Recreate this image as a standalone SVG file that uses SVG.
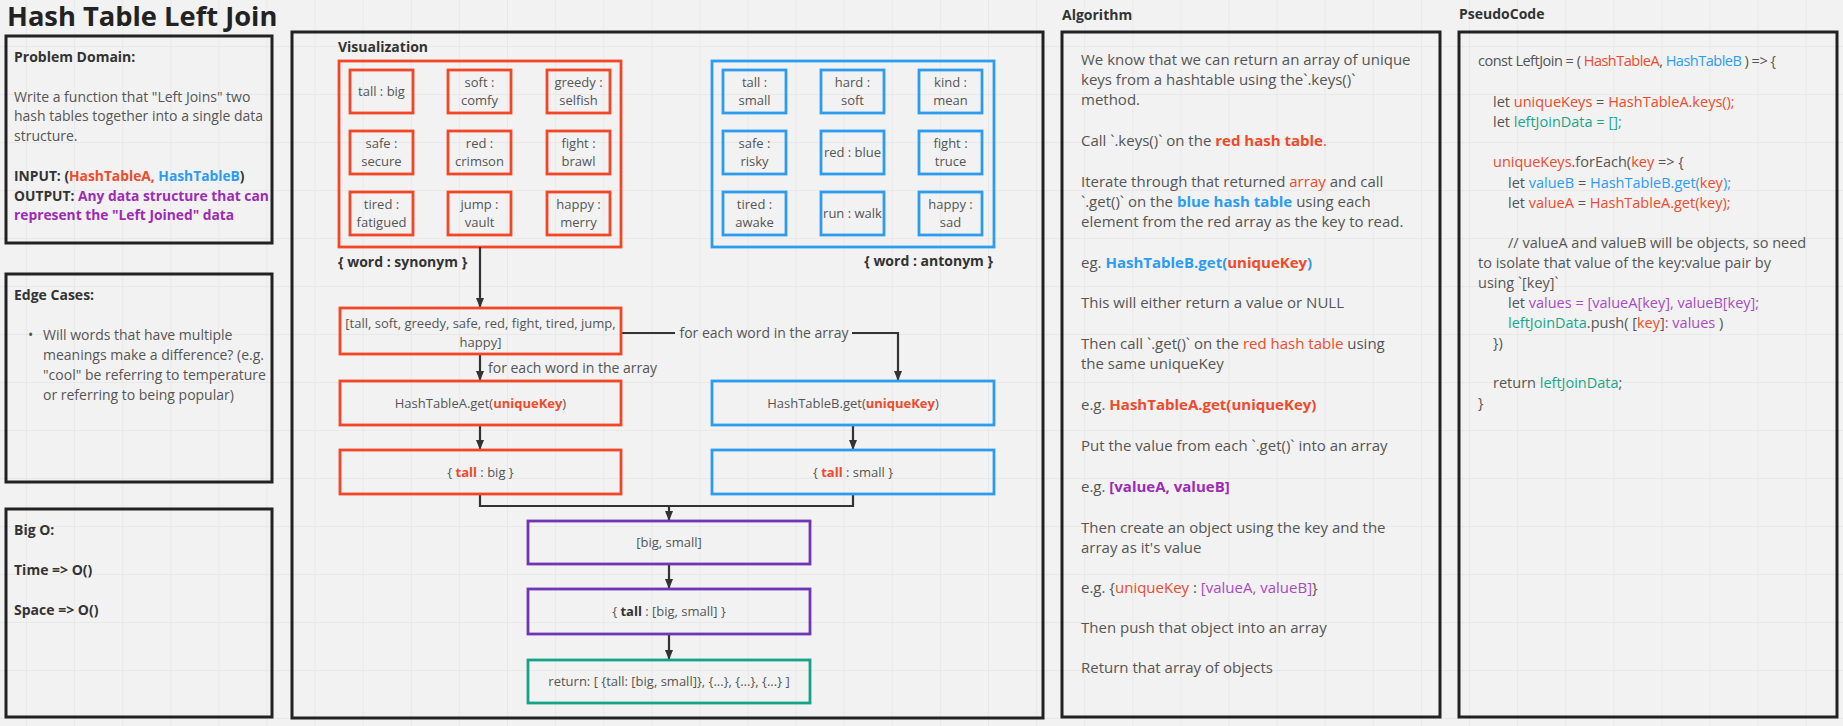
<svg xmlns="http://www.w3.org/2000/svg" width="1843" height="726" viewBox="0 0 1843 726">
<defs>
<pattern id="grid" patternUnits="userSpaceOnUse" x="26" y="46" width="48.1" height="48">
<path d="M0,0 V48 M0,0 H48.1" fill="none" stroke="#e6e6e6" stroke-width="1.5"/>
</pattern>
<marker id="arr" viewBox="0 0 10 10" refX="10" refY="5" markerUnits="userSpaceOnUse" markerWidth="10" markerHeight="10" orient="auto">
<path d="M0,1 L10,5 L0,9 z" fill="#333"/>
</marker>
<style>
text{font-family:"Open Sans","DejaVu Sans",sans-serif;fill:#555;}
.h{font-weight:700;fill:#333;font-size:14px;}
.io{font-size:13.8px;}
.t{font-size:14px;}
.s{font-size:13px;}
.lb{font-size:14px;}
.c{text-anchor:middle;}
.al{font-size:15px;}
.pc{font-size:14.5px;}
.b{font-weight:700;}
.r{fill:#ef4a2a;}
.bl{fill:#2d9bf0;}
.pu{fill:#9c2bb5;}
.pl{fill:#a74bc2;}
.g{fill:#1aa58a;}
.dk{fill:#333;}
.frame{fill:none;stroke:#222;stroke-width:3;}
.rb{fill:none;stroke:#f24726;stroke-width:2.8;}
.bb{fill:none;stroke:#2d9bf0;stroke-width:2.8;}
.pb{fill:none;stroke:#6f35b4;stroke-width:2.8;}
.gb{fill:none;stroke:#14a386;stroke-width:2.8;}
.con{fill:none;stroke:#333;stroke-width:2.2;}
</style>
</defs>
<rect width="1843" height="726" fill="#f2f2f2"/>
<rect width="1843" height="726" fill="url(#grid)"/>

<text id="title" x="7" y="26" style="font-size:27.3px;font-weight:700;fill:#222">Hash Table Left Join</text>

<g id="problem-domain">
<rect class="frame" x="6" y="36" width="266" height="207"/>
<text class="h" x="14" y="62">Problem Domain:</text>
<text class="t" x="14" y="102">Write a function that "Left Joins" two</text>
<text class="t" x="14" y="121">hash tables together into a single data</text>
<text class="t" x="14" y="141">structure.</text>
<text class="h io" x="14" y="181">INPUT: (<tspan class="r">HashTableA,</tspan> <tspan class="bl">HashTableB</tspan>)</text>
<text class="h io" x="14" y="201">OUTPUT: <tspan class="pu">Any data structure that can</tspan></text>
<text class="h io pu" x="14" y="220">represent the "Left Joined" data</text>
</g>

<g id="edge-cases">
<rect class="frame" x="6" y="274" width="266" height="208"/>
<text class="h" x="14" y="300">Edge Cases:</text>
<text class="t" x="28" y="340">•</text>
<text class="t" x="43" y="340">Will words that have multiple</text>
<text class="t" x="43" y="360">meanings make a difference? (e.g.</text>
<text class="t" x="43" y="380">"cool" be referring to temperature</text>
<text class="t" x="43" y="400">or referring to being popular)</text>
</g>

<g id="big-o">
<rect class="frame" x="6" y="509" width="266" height="208"/>
<text class="h" x="14" y="535">Big O:</text>
<text class="h" x="14" y="575">Time =&gt; O()</text>
<text class="h" x="14" y="615">Space =&gt; O()</text>
</g>

<g id="visualization">
<rect class="frame" x="292" y="32" width="751" height="686"/>
<text class="h" x="338" y="52">Visualization</text>
</g>

<g id="synonym-table">
<rect class="rb" x="339" y="61" width="282" height="186"/>
<rect class="rb" x="350" y="70" width="63" height="43"/>
<text class="s c" x="381.5" y="96">tall : big</text>
<rect class="rb" x="448" y="70" width="63" height="43"/>
<text class="s c" x="479.5" y="87">soft :</text><text class="s c" x="479.5" y="105">comfy</text>
<rect class="rb" x="547" y="70" width="63" height="43"/>
<text class="s c" x="578.5" y="87">greedy :</text><text class="s c" x="578.5" y="105">selfish</text>
<rect class="rb" x="350" y="131" width="63" height="43"/>
<text class="s c" x="381.5" y="148">safe :</text><text class="s c" x="381.5" y="166">secure</text>
<rect class="rb" x="448" y="131" width="63" height="43"/>
<text class="s c" x="479.5" y="148">red :</text><text class="s c" x="479.5" y="166">crimson</text>
<rect class="rb" x="547" y="131" width="63" height="43"/>
<text class="s c" x="578.5" y="148">fight :</text><text class="s c" x="578.5" y="166">brawl</text>
<rect class="rb" x="350" y="192" width="63" height="43"/>
<text class="s c" x="381.5" y="209">tired :</text><text class="s c" x="381.5" y="227">fatigued</text>
<rect class="rb" x="448" y="192" width="63" height="43"/>
<text class="s c" x="479.5" y="209">jump :</text><text class="s c" x="479.5" y="227">vault</text>
<rect class="rb" x="547" y="192" width="63" height="43"/>
<text class="s c" x="578.5" y="209">happy :</text><text class="s c" x="578.5" y="227">merry</text>
<text class="h" x="338" y="267">{ word : synonym }</text>
</g>

<g id="antonym-table">
<rect class="bb" x="712" y="61" width="282" height="186"/>
<rect class="bb" x="723" y="70" width="63" height="43"/>
<text class="s c" x="754.5" y="87">tall :</text><text class="s c" x="754.5" y="105">small</text>
<rect class="bb" x="821" y="70" width="63" height="43"/>
<text class="s c" x="852.5" y="87">hard :</text><text class="s c" x="852.5" y="105">soft</text>
<rect class="bb" x="919" y="70" width="63" height="43"/>
<text class="s c" x="950.5" y="87">kind :</text><text class="s c" x="950.5" y="105">mean</text>
<rect class="bb" x="723" y="131" width="63" height="43"/>
<text class="s c" x="754.5" y="148">safe :</text><text class="s c" x="754.5" y="166">risky</text>
<rect class="bb" x="821" y="131" width="63" height="43"/>
<text class="s c" x="852.5" y="157">red : blue</text>
<rect class="bb" x="919" y="131" width="63" height="43"/>
<text class="s c" x="950.5" y="148">fight :</text><text class="s c" x="950.5" y="166">truce</text>
<rect class="bb" x="723" y="192" width="63" height="43"/>
<text class="s c" x="754.5" y="209">tired :</text><text class="s c" x="754.5" y="227">awake</text>
<rect class="bb" x="821" y="192" width="63" height="43"/>
<text class="s c" x="852.5" y="218">run : walk</text>
<rect class="bb" x="919" y="192" width="63" height="43"/>
<text class="s c" x="950.5" y="209">happy :</text><text class="s c" x="950.5" y="227">sad</text>
<text class="h" x="993" y="266" text-anchor="end">{ word : antonym }</text>
</g>

<g id="connectors">
<path class="con" d="M480,247 V308" marker-end="url(#arr)"/>
<path class="con" d="M480,354 V381" marker-end="url(#arr)"/>
<path class="con" d="M621,333 H675 M852,333 H898 V381" marker-end="url(#arr)"/>
<path class="con" d="M480,425 V450" marker-end="url(#arr)"/>
<path class="con" d="M853,425 V450" marker-end="url(#arr)"/>
<path class="con" d="M480,494 V506 H853 V494"/>
<path class="con" d="M669,506 V521" marker-end="url(#arr)"/>
<path class="con" d="M669,564 V589" marker-end="url(#arr)"/>
<path class="con" d="M669,634 V660" marker-end="url(#arr)"/>
<text class="lb" x="488" y="373">for each word in the array</text>
<text class="lb c" x="764" y="338">for each word in the array</text>
</g>

<g id="keys-array">
<rect class="rb" x="340" y="308" width="281" height="46"/>
<text class="s c" x="480.5" y="328">[tall, soft, greedy, safe, red, fight, tired, jump,</text>
<text class="s c" x="480.5" y="347">happy]</text>
</g>

<g id="get-a">
<rect class="rb" x="340" y="381" width="281" height="44"/>
<text class="s c" x="480.5" y="408">HashTableA.get(<tspan class="b r">uniqueKey</tspan>)</text>
</g>

<g id="get-b">
<rect class="bb" x="712" y="381" width="282" height="44"/>
<text class="s c" x="853" y="408">HashTableB.get(<tspan class="b r">uniqueKey</tspan>)</text>
</g>

<g id="result-a">
<rect class="rb" x="340" y="450" width="281" height="44"/>
<text class="s c" x="480.5" y="477">{ <tspan class="b r">tall</tspan> : big }</text>
</g>

<g id="result-b">
<rect class="bb" x="712" y="450" width="282" height="44"/>
<text class="s c" x="853" y="477">{ <tspan class="b r">tall</tspan> : small }</text>
</g>

<g id="values-array">
<rect class="pb" x="528" y="521" width="282" height="43"/>
<text class="s c" x="669" y="547">[big, small]</text>
</g>

<g id="key-object">
<rect class="pb" x="528" y="589" width="282" height="45"/>
<text class="s c" x="669" y="616">{ <tspan class="b dk">tall</tspan> : [big, small] }</text>
</g>

<g id="return-node">
<rect class="gb" x="528" y="660" width="282" height="43"/>
<text class="s c" x="669" y="686">return: [ {tall: [big, small]}, {...}, {...}, {...} ]</text>
</g>

<g id="algorithm">
<text class="h" x="1062" y="20">Algorithm</text>
<rect class="frame" x="1062" y="32" width="378" height="685"/>
<text class="al" x="1081" y="65">We know that we can return an array of unique</text>
<text class="al" x="1081" y="85">keys from a hashtable using the`.keys()`</text>
<text class="al" x="1081" y="105">method.</text>
<text class="al" x="1081" y="146">Call `.keys()` on the <tspan class="b r">red hash table</tspan><tspan class="r">.</tspan></text>
<text class="al" x="1081" y="187">Iterate through that returned <tspan class="r">array</tspan> and call</text>
<text class="al" x="1081" y="207">`.get()` on the <tspan class="b bl">blue hash table</tspan> using each</text>
<text class="al" x="1081" y="227">element from the red array as the key to read.</text>
<text class="al" x="1081" y="268">eg. <tspan class="b bl">HashTableB.get(</tspan><tspan class="b r">uniqueKey</tspan><tspan class="b bl">)</tspan></text>
<text class="al" x="1081" y="308">This will either return a value or NULL</text>
<text class="al" x="1081" y="349">Then call `.get()` on the  <tspan class="r">red hash table</tspan> using</text>
<text class="al" x="1081" y="369">the same uniqueKey</text>
<text class="al" x="1081" y="410">e.g. <tspan class="b r">HashTableA.get(uniqueKey)</tspan></text>
<text class="al" x="1081" y="451">Put the value from each `.get()` into an array</text>
<text class="al" x="1081" y="492">e.g. <tspan class="b pu">[valueA, valueB]</tspan></text>
<text class="al" x="1081" y="533">Then create an object using the key and the</text>
<text class="al" x="1081" y="553">array as it's value</text>
<text class="al" x="1081" y="593">e.g. {<tspan class="r">uniqueKey</tspan> : <tspan class="pl">[valueA, valueB]</tspan>}</text>
<text class="al" x="1081" y="633">Then push that object into an array</text>
<text class="al" x="1081" y="673">Return that array of objects</text>
</g>

<g id="pseudocode">
<text class="h" x="1459" y="19">PseudoCode</text>
<rect class="frame" x="1459" y="32" width="378" height="685"/>
<text class="pc" x="1478" y="66" letter-spacing="-0.5">const LeftJoin = ( <tspan class="r">HashTableA</tspan>, <tspan class="bl">HashTableB</tspan> ) =&gt; {</text>
<text class="pc" x="1493" y="107">let <tspan class="r">uniqueKeys</tspan> = <tspan class="r">HashTableA.keys();</tspan></text>
<text class="pc" x="1493" y="127">let <tspan class="g">leftJoinData = [];</tspan></text>
<text class="pc" x="1493" y="167"><tspan class="r">uniqueKeys</tspan>.forEach(<tspan class="r">key</tspan> =&gt; {</text>
<text class="pc" x="1508" y="188">let <tspan class="bl">valueB</tspan> = <tspan class="bl">HashTableB.get(</tspan><tspan class="r">key</tspan><tspan class="bl">);</tspan></text>
<text class="pc" x="1508" y="208">let <tspan class="r">valueA</tspan> = <tspan class="r">HashTableA.get(key);</tspan></text>
<text class="pc" x="1508" y="248">// valueA and valueB will be objects, so need</text>
<text class="pc" x="1478" y="268">to isolate that value of the key:value pair by</text>
<text class="pc" x="1478" y="288">using `[key]`</text>
<text class="pc" x="1508" y="308">let <tspan class="pl">values = [valueA[key], valueB[key];</tspan></text>
<text class="pc" x="1508" y="328"><tspan class="g">leftJoinData</tspan>.push( [<tspan class="r">key</tspan>]<tspan class="pl">: values</tspan> )</text>
<text class="pc" x="1493" y="348">})</text>
<text class="pc" x="1493" y="388">return <tspan class="g">leftJoinData</tspan>;</text>
<text class="pc" x="1478" y="408">}</text>
</g>
</svg>
